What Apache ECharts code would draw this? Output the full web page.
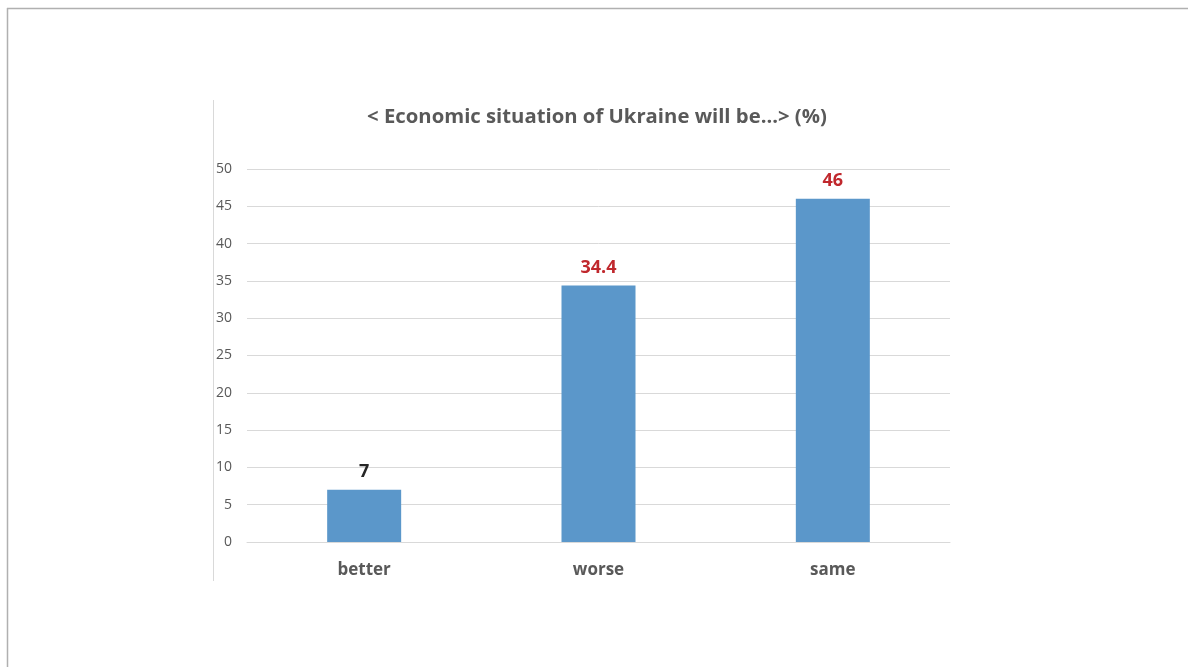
<!DOCTYPE html>
<html>
<head>
<meta charset="utf-8">
<script src="https://cdn.jsdelivr.net/npm/echarts@6/dist/echarts.min.js"></script>
<style>
  html, body { margin: 0; padding: 0; background: #fff; }
  #chart { width: 1188px; height: 667px; }
</style>
</head>
<body>
<div id="chart"></div>
<script>
const titleText = '< Economic situation of Ukraine will be...> (%)';
const categories = ['better', 'worse', 'same'];
const values = [7, 34.4, 46];
const labelColors = ['#262626', '#c0282d', '#c0282d'];
const yTicks = [0, 5, 10, 15, 20, 25, 30, 35, 40, 45, 50];

const FONT = 'Open Sans, Liberation Sans, sans-serif';
const chart = echarts.init(document.getElementById('chart'), null, { renderer: 'canvas' });

chart.setOption({
  backgroundColor: '#ffffff',
  animation: false,
  title: {
    text: titleText,
    left: 592,
    top: 102,
    textAlign: 'center',
    textStyle: { fontFamily: FONT, fontSize: 20.3, fontWeight: 'bold', color: '#595959' }
  },
  grid: { left: 247, right: 238, top: 169, bottom: 125, containLabel: false },
  xAxis: {
    type: 'category',
    data: categories,
    axisLine: { show: true, lineStyle: { color: '#d9d9d9', width: 1 } },
    axisTick: { show: false },
    axisLabel: { margin: 20, fontFamily: FONT, fontSize: 17, fontWeight: 'bold', color: '#595959' }
  },
  yAxis: {
    type: 'value',
    min: yTicks[0],
    max: yTicks[yTicks.length - 1],
    interval: 5,
    axisLine: { show: false },
    axisTick: { show: false },
    splitLine: { lineStyle: { color: '#d9d9d9', width: 1 } },
    axisLabel: { margin: 15, fontFamily: FONT, fontSize: 14, color: '#595959' }
  },
  series: [{
    type: 'bar',
    barWidth: 74,
    data: values.map((v, i) => ({
      value: v,
      label: { color: labelColors[i] }
    })),
    itemStyle: { color: '#5b97ca' },
    label: {
      show: true,
      position: 'top',
      distance: 9,
      fontFamily: FONT,
      fontSize: 18,
      fontWeight: 'bold'
    }
  }],
  graphic: [
    { type: 'line', shape: { x1: 7.5, y1: 8, x2: 7.5, y2: 667 }, style: { stroke: '#b0b0b0', lineWidth: 1.5 } },
    { type: 'line', shape: { x1: 7, y1: 8.5, x2: 1188, y2: 8.5 }, style: { stroke: '#b0b0b0', lineWidth: 1.5 } },
    { type: 'line', shape: { x1: 213.5, y1: 100, x2: 213.5, y2: 581 }, style: { stroke: '#d9d9d9', lineWidth: 1 } }
  ]
});
</script>
</body>
</html>
